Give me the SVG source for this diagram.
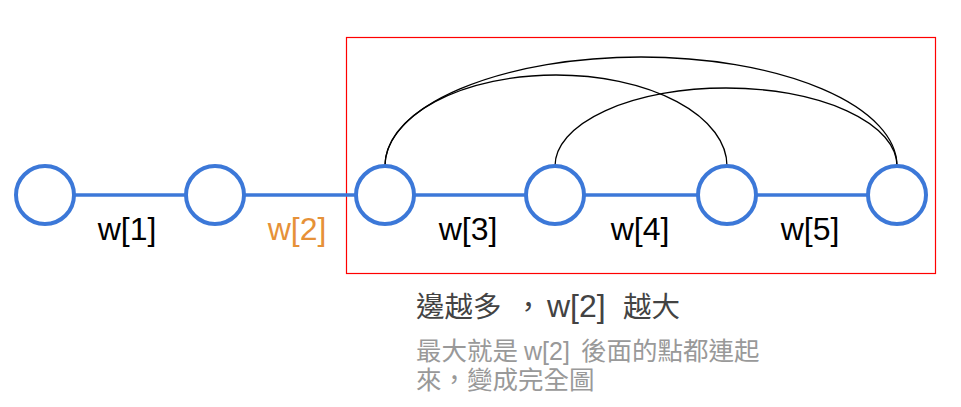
<svg xmlns="http://www.w3.org/2000/svg" width="961" height="407" viewBox="0 0 961 407">
<style>
.node{fill:#fff;stroke:#3c78d8;stroke-width:4}
.edge{stroke:#3c78d8;stroke-width:3.5;fill:none}
.arc{stroke:#000;stroke-width:1.3;fill:none}
.lbl{font-family:"Liberation Sans",Arial,sans-serif;font-size:32px;fill:#000;text-anchor:middle}
.cjk{font-family:"Noto Sans CJK TC","Liberation Sans",sans-serif}
.lat{font-family:"Liberation Sans",Arial,sans-serif}
</style>
<rect width="961" height="407" fill="#fff"/>
<rect id="frame" x="346.5" y="37.5" width="589" height="236" fill="none" stroke="#ff0000" stroke-width="1.2"/>
<g id="connectors">
<line class="edge" x1="45" y1="195" x2="897" y2="195"/>
<path class="arc" d="M385,166 A256,109 0 0 1 897,166"/>
<path class="arc" d="M385,166 A171,91 0 0 1 727,166"/>
<path class="arc" d="M555,166 A171,78 0 0 1 897,166"/>
</g>
<g id="n1"><circle class="node" cx="45" cy="195" r="29"/></g>
<g id="n2"><circle class="node" cx="215" cy="195" r="29"/></g>
<g id="n3"><circle class="node" cx="385" cy="195" r="29"/></g>
<g id="n4"><circle class="node" cx="555" cy="195" r="29"/></g>
<g id="n5"><circle class="node" cx="727" cy="195" r="29"/></g>
<g id="n6"><circle class="node" cx="897" cy="195" r="29"/></g>
<g id="labels">
<text class="lbl" x="127" y="240">w[1]</text>
<text class="lbl" x="297" y="240" style="fill:#e69138">w[2]</text>
<text class="lbl" x="468" y="240">w[3]</text>
<text class="lbl" x="640" y="240">w[4]</text>
<text class="lbl" x="810" y="240">w[5]</text>
</g>
<g id="notes">
<text y="317" fill="#434343"><tspan class="cjk" x="416" font-size="28.5">邊越多</tspan><tspan class="cjk" x="514" font-size="28.5">，</tspan><tspan class="lat" x="547" font-size="32">w[2]</tspan><tspan class="cjk" x="623" font-size="28.5">越大</tspan></text>
<text y="360" fill="#999999"><tspan class="cjk" x="416" font-size="25.5">最大就是</tspan><tspan class="lat" x="524" font-size="25">w[2]</tspan><tspan class="cjk" x="581" font-size="25.5">後面的點都連起</tspan></text>
<text y="389" fill="#999999"><tspan class="cjk" x="416" font-size="25.5">來，變成完全圖</tspan></text>
</g>
</svg>
